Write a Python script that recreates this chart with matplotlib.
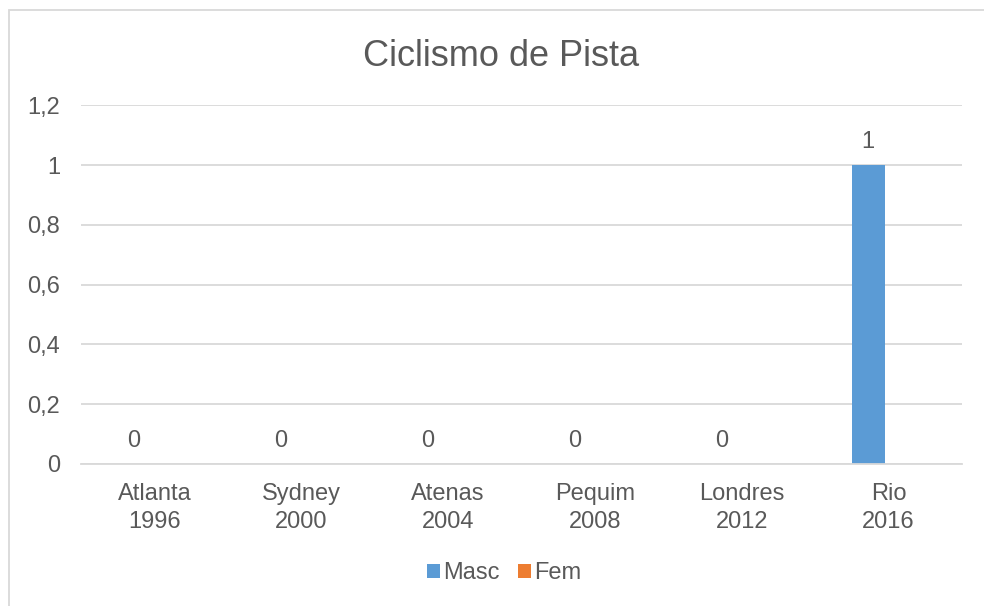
import numpy as np
import matplotlib
matplotlib.use("Agg")
import matplotlib.pyplot as plt
from matplotlib.patches import Rectangle
from matplotlib.ticker import FuncFormatter

plt.rcParams['font.family'] = ['Liberation Sans', 'DejaVu Sans']

categories = ["Atlanta\n1996", "Sydney\n2000", "Atenas\n2004", "Pequim\n2008", "Londres\n2012", "Rio\n2016"]
masc = [0, 0, 0, 0, 0, 1]
fem = [np.nan, np.nan, np.nan, np.nan, np.nan, np.nan]
yticks = [0, 0.2, 0.4, 0.6, 0.8, 1.0, 1.2]

text_color = "#595959"
grid_color = "#d9d9d9"
masc_color = "#5B9BD5"
fem_color = "#ED7D31"

W, H = 984, 606
fig = plt.figure(figsize=(W / 100, H / 100), dpi=100)

# chart area border (runs off the right and bottom edges)
fig.patches.append(Rectangle((8.5 / W, -0.1), 1.2, 1 - 10 / H + 0.1,
                             transform=fig.transFigure, fill=False,
                             edgecolor=grid_color, linewidth=1.3))

ax = fig.add_axes([81 / W, (H - 464) / H, (962 - 81) / W, (464 - 105.4) / H])

x = np.arange(len(categories))
w = 0.225
off = 0.14
b1 = ax.bar(x - off, masc, w, color=masc_color, label="Masc", zorder=3)
b2 = ax.bar(x + off, fem, w, color=fem_color, label="Fem", zorder=3)

for xi, v in zip(x - off, masc):
    ax.annotate(f"{v:g}", (xi, v), xytext=(0, 16.5), textcoords="offset points",
                ha="center", va="center", fontsize=17, color=text_color)

ax.set_xlim(-0.5, len(categories) - 0.5)
ax.set_ylim(0, 1.2)
ax.set_yticks(yticks)
ax.yaxis.set_major_formatter(FuncFormatter(lambda v, p: f"{v:g}".replace(".", ",")))
ax.set_xticks(x)
ax.set_xticklabels(categories, linespacing=1.3)
ax.tick_params(axis="both", length=0, labelsize=17, labelcolor=text_color)
ax.tick_params(axis="y", pad=15)
ax.tick_params(axis="x", pad=14)

ax.grid(axis="y", color=grid_color, linewidth=1.3, zorder=0)
for s in ["top", "right", "left"]:
    ax.spines[s].set_visible(False)
ax.spines["bottom"].set_color(grid_color)
ax.spines["bottom"].set_linewidth(1.3)
ax.spines["bottom"].set_zorder(4)

fig.text(501 / W, 1 - 57 / H, "Ciclismo de Pista", ha="center", va="center",
         fontsize=26, color=text_color)

fig.legend(handles=[b1, b2], loc="center", bbox_to_anchor=(504 / W, 1 - 573 / H),
           ncol=2, frameon=False, fontsize=17, labelcolor=text_color,
           handlelength=0.55, handleheight=0.55, handletextpad=0.15,
           columnspacing=0.75, borderaxespad=0)

fig.savefig("out.png", dpi=100, facecolor="white")
